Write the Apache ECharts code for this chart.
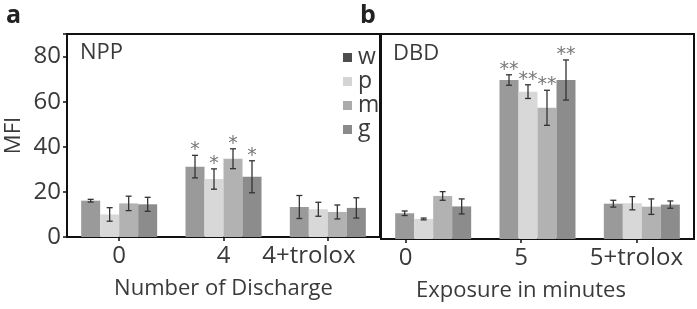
<!DOCTYPE html>
<html>
<head>
<meta charset="utf-8">
<script src="https://cdn.jsdelivr.net/npm/echarts@6/dist/echarts.min.js"></script>
<style>
  html, body { margin: 0; padding: 0; background: #fff; }
  #chart { width: 697px; height: 309px; }
</style>
</head>
<body>
<div id="chart"></div>
<script>
// categories
var groupsA = ['0', '4', '4+trolox'];
var groupsB = ['0', '5', '5+trolox'];
var names = ['w', 'p', 'm', 'g'];
var yTicks = [0, 20, 40, 60, 80];

// NPP means / errors
var nppW = [16.1, 31.2, 13.3];
var nppP = [10.0, 25.7, 12.3];
var nppM = [14.9, 34.7, 11.1];
var nppG = [14.5, 26.7, 12.9];
var nppWErr = [0.6, 5.0, 5.1];
var nppPErr = [3.0, 4.5, 3.1];
var nppMErr = [3.2, 4.4, 3.1];
var nppGErr = [3.1, 7.1, 4.5];
var nppSig = ['', '*', ''];

// DBD means / errors
var dbdW = [11.3, 69.8, 15.5];
var dbdP = [8.8, 64.7, 15.7];
var dbdM = [18.9, 57.6, 14.2];
var dbdG = [14.3, 69.8, 15.1];
var dbdWErr = [1.0, 2.3, 1.5];
var dbdPErr = [0.4, 3.0, 2.9];
var dbdMErr = [1.9, 7.7, 3.4];
var dbdGErr = [3.3, 8.8, 1.6];
var dbdSig = ['', '**', ''];

var barColors = ['#9a9a9a', '#d8d8d8', '#b2b2b2', '#8c8c8c'];
var legendColors = ['#4d4d4d', '#d4d4d4', '#ababab', '#8a8a8a'];
var BAR_W = 19;
var FONT = 'Open Sans';
var TXT = '#3a3a3a';

var myChart = echarts.init(document.getElementById('chart'));

function errData(means, errs, sig) {
    var out = [];
    for (var k = 0; k < means.length; k++) {
        for (var c = 0; c < means[k].length; c++) {
            out.push({ value: [c, means[k][c], errs[k][c], k], sig: sig[c] });
        }
    }
    return out;
}

function makeErr(data, xi, yi) {
    return {
        type: 'custom',
        xAxisIndex: xi,
        yAxisIndex: yi,
        silent: true,
        z: 10,
        encode: { x: 0, y: 1 },
        data: data,
        renderItem: function (params, api) {
            var c = api.value(0), m = api.value(1), e = api.value(2), k = api.value(3);
            var x = api.coord([c, m])[0] + (k - 1.5) * BAR_W;
            var hi = api.coord([c, m + e])[1];
            var lo = api.coord([c, m - e])[1];
            var st = { stroke: '#333', lineWidth: 1.3 };
            var kids = [
                { type: 'line', shape: { x1: x, y1: hi, x2: x, y2: lo }, style: st },
                { type: 'line', shape: { x1: x - 3, y1: hi, x2: x + 3, y2: hi }, style: st },
                { type: 'line', shape: { x1: x - 3, y1: lo, x2: x + 3, y2: lo }, style: st }
            ];
            var s = data[params.dataIndex].sig;
            if (s) {
                kids.push({ type: 'text', style: { text: s, x: x, y: hi - 5, align: 'center', verticalAlign: 'middle',
                    fontSize: 19, fontFamily: 'DejaVu Sans', fill: '#777' } });
            }
            return { type: 'group', children: kids };
        }
    };
}

var nppMeans = [nppW, nppP, nppM, nppG];
var nppErrs = [nppWErr, nppPErr, nppMErr, nppGErr];
var dbdMeans = [dbdW, dbdP, dbdM, dbdG];
var dbdErrs = [dbdWErr, dbdPErr, dbdMErr, dbdGErr];

var series = [];
names.forEach(function (n, k) {
    series.push({ name: n, type: 'bar', xAxisIndex: 0, yAxisIndex: 0, data: nppMeans[k],
        barWidth: BAR_W, barGap: '0%', itemStyle: { color: barColors[k] } });
});
names.forEach(function (n, k) {
    series.push({ name: n, type: 'bar', xAxisIndex: 1, yAxisIndex: 1, data: dbdMeans[k],
        barWidth: BAR_W, barGap: '0%', itemStyle: { color: barColors[k] } });
});
series.push(makeErr(errData(nppMeans, nppErrs, nppSig), 0, 0));
series.push(makeErr(errData(dbdMeans, dbdErrs, dbdSig), 1, 1));

var tickStyle = { show: true, length: 4, lineStyle: { color: '#111', width: 1.5 } };

option = {
    animation: false,
    color: barColors,
    textStyle: { fontFamily: FONT },
    title: [
        { text: 'a', left: 1, top: -2, textStyle: { fontSize: 25, fontWeight: 'bold', color: '#222', fontFamily: FONT } },
        { text: 'b', left: 355, top: -2, textStyle: { fontSize: 25, fontWeight: 'bold', color: '#222', fontFamily: FONT } },
        { text: 'NPP', left: 75, top: 37, textStyle: { fontSize: 22, fontWeight: 'normal', color: TXT, fontFamily: FONT } },
        { text: 'DBD', left: 388, top: 38, textStyle: { fontSize: 22, fontWeight: 'normal', color: TXT, fontFamily: FONT } }
    ],
    legend: {
        orient: 'vertical',
        left: 338,
        top: 41,
        itemWidth: 9,
        itemHeight: 9,
        itemGap: 1,
        icon: 'rect',
        textStyle: { fontSize: 23, color: TXT, fontFamily: FONT, padding: [0, 0, 0, 1] },
        data: names.map(function (n, k) { return { name: n, itemStyle: { color: legendColors[k] } }; })
    },
    grid: [
        { left: 67, top: 34, width: 313, height: 203, show: true, borderColor: '#111', borderWidth: 2 },
        { left: 381, top: 34, width: 313, height: 205, show: true, borderColor: '#111', borderWidth: 2 },
        { left: 348, top: 34, width: 346, height: 205 }
    ],
    xAxis: [
        {
            type: 'category', gridIndex: 0, data: groupsA,
            name: 'Number of Discharge', nameLocation: 'middle', nameGap: 41,
            nameTextStyle: { fontSize: 22, color: TXT, fontFamily: FONT },
            axisLine: { lineStyle: { color: '#111', width: 2 } },
            axisTick: { show: true, alignWithLabel: true, length: 4, lineStyle: { color: '#111', width: 1.5 } },
            axisLabel: {
                interval: 0, hideOverlap: false, fontSize: 24, color: TXT, margin: 7,
                formatter: function (v, i) { return '{s' + i + '|' + v + '}'; },
                rich: {
                    s0: { fontSize: 24, color: TXT, fontFamily: FONT },
                    s1: { fontSize: 24, color: TXT, fontFamily: FONT },
                    s2: { fontSize: 24, color: TXT, fontFamily: FONT, padding: [0, 38, 0, 0] }
                }
            }
        },
        {
            type: 'category', gridIndex: 1, data: groupsB,
            axisLine: { lineStyle: { color: '#111', width: 2 } },
            axisTick: { show: false },
            axisLabel: { show: false }
        },
        {
            type: 'category', gridIndex: 2, data: groupsB,
            name: 'Exposure in minutes', nameLocation: 'middle', nameGap: 41,
            nameTextStyle: { fontSize: 22, color: TXT, fontFamily: FONT },
            axisLine: { show: false },
            axisTick: { show: true, alignWithLabel: true, length: 4, lineStyle: { color: '#111', width: 1.5 } },
            axisLabel: { interval: 0, hideOverlap: false, fontSize: 24, color: TXT, margin: 7, fontFamily: FONT }
        }
    ],
    yAxis: [
        {
            type: 'value', gridIndex: 0, min: 0, max: 90, interval: 20,
            name: 'MFI', nameLocation: 'middle', nameGap: 42,
            nameTextStyle: { fontSize: 22, color: TXT, fontFamily: FONT },
            axisLine: { show: true, lineStyle: { color: '#111', width: 2 } },
            axisTick: tickStyle,
            splitLine: { show: false },
            axisLabel: {
                fontSize: 24, color: TXT, margin: 6, fontFamily: FONT,
                formatter: function (v) { return yTicks.indexOf(v) >= 0 ? v : ''; }
            }
        },
        {
            type: 'value', gridIndex: 1, min: 0, max: 90, interval: 20,
            axisLine: { show: true, lineStyle: { color: '#111', width: 2 } },
            axisTick: { show: false }, axisLabel: { show: false }, splitLine: { show: false }
        },
        { type: 'value', gridIndex: 2, show: false }
    ],
    series: series
};

myChart.setOption(option);
</script>
</body>
</html>
